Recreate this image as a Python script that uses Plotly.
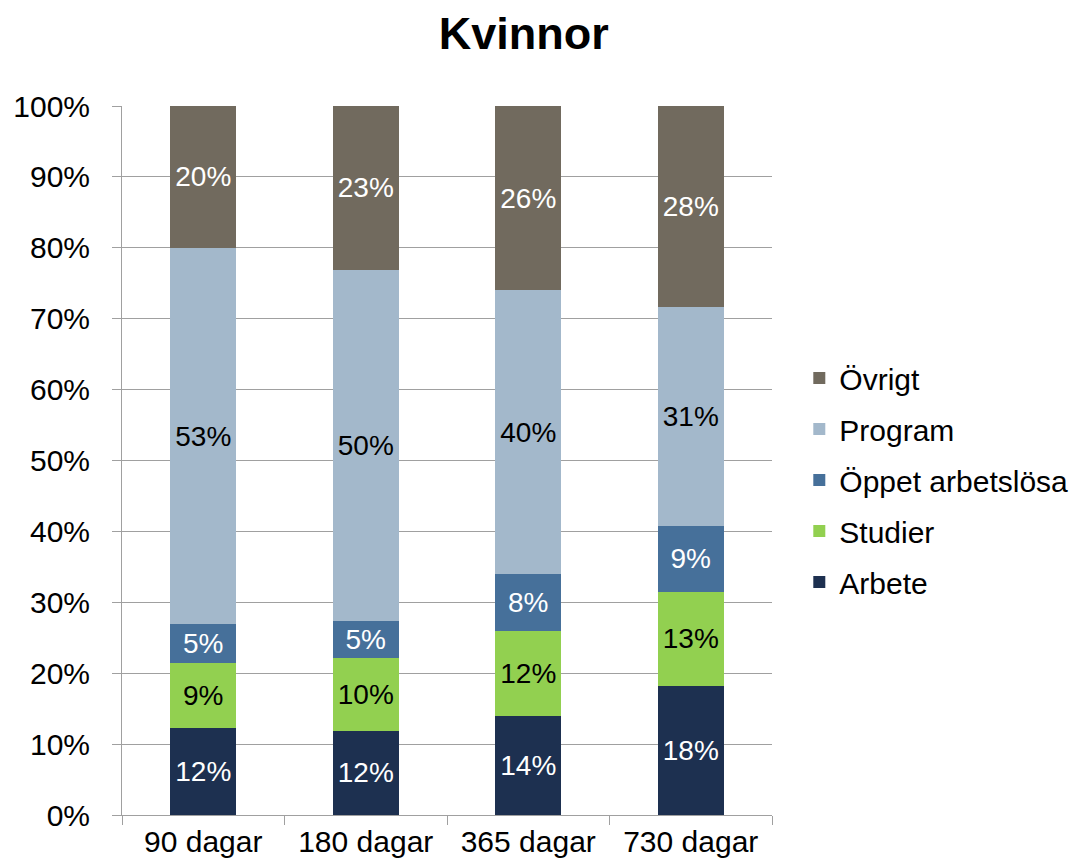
import plotly.graph_objects as go

categories = ["90 dagar", "180 dagar", "365 dagar", "730 dagar"]
arbete = [12.3, 11.9, 14.0, 18.2]
studier = [9.2, 10.3, 12.0, 13.3]
oppet = [5.4, 5.1, 8.0, 9.3]
program = [53.1, 49.6, 40.0, 30.8]
ovrigt = [20.0, 23.1, 26.0, 28.4]

series = [
    ("Arbete", arbete, "#1D3050", "white"),
    ("Studier", studier, "#92D050", "black"),
    ("Öppet arbetslösa", oppet, "#46709A", "white"),
    ("Program", program, "#A3B8CB", "black"),
    ("Övrigt", ovrigt, "#716A5E", "white"),
]

FONT = "Liberation Sans, Arial, sans-serif"

fig = go.Figure()
n = len(series)
for i, (name, vals, color, tcolor) in enumerate(series):
    fig.add_trace(go.Bar(
        name=name,
        x=categories,
        y=[v / 100 for v in vals],
        marker=dict(color=color, line=dict(width=0)),
        text=[f"{round(v)}%" for v in vals],
        textposition="inside",
        insidetextanchor="middle",
        textangle=0,
        textfont=dict(family=FONT, size=28, color=tcolor),
        legendgroup=name,
        legendrank=(n - i) * 10,
        hoverinfo="skip",
    ))

fig.update_layout(
    barmode="stack",
    bargap=0.594,
    width=1079,
    height=858,
    paper_bgcolor="white",
    plot_bgcolor="white",
    margin=dict(l=114, r=315, t=98, b=51, autoexpand=False),
    font=dict(family=FONT, size=30, color="black"),
    title=dict(text="<b>Kvinnor</b>", x=0.478, xanchor="center", y=0.971, yanchor="middle",
               font=dict(family=FONT, size=45, color="black")),
    uniformtext=dict(minsize=28, mode="show"),
    legend=dict(
        traceorder="grouped",
        x=1.042, xanchor="left",
        y=0.4725, yanchor="middle",
        font=dict(family=FONT, size=30, color="black"),
        tracegroupgap=9,
        itemwidth=30,
        bgcolor="rgba(0,0,0,0)",
    ),
    xaxis=dict(
        type="category",
        tickson="boundaries",
        ticks="outside",
        ticklen=9,
        tickcolor="#A0A0A0",
        showline=True,
        linecolor="#A0A0A0",
        linewidth=1,
        showgrid=False,
        automargin=False,
        tickfont=dict(family=FONT, size=30, color="black"),
    ),
    yaxis=dict(
        range=[0, 1],
        tickmode="array",
        tickvals=[i / 10 for i in range(11)],
        ticktext=[f"{i*10}%" for i in range(11)],
        ticks="outside",
        ticklen=9,
        tickcolor="#A0A0A0",
        showline=True,
        linecolor="#A0A0A0",
        linewidth=1,
        showgrid=True,
        gridcolor="#A0A0A0",
        gridwidth=1,
        zeroline=False,
        automargin=False,
        ticklabelstandoff=16,
        tickfont=dict(family=FONT, size=30, color="black"),
    ),
)

fig.write_html("out.html")
